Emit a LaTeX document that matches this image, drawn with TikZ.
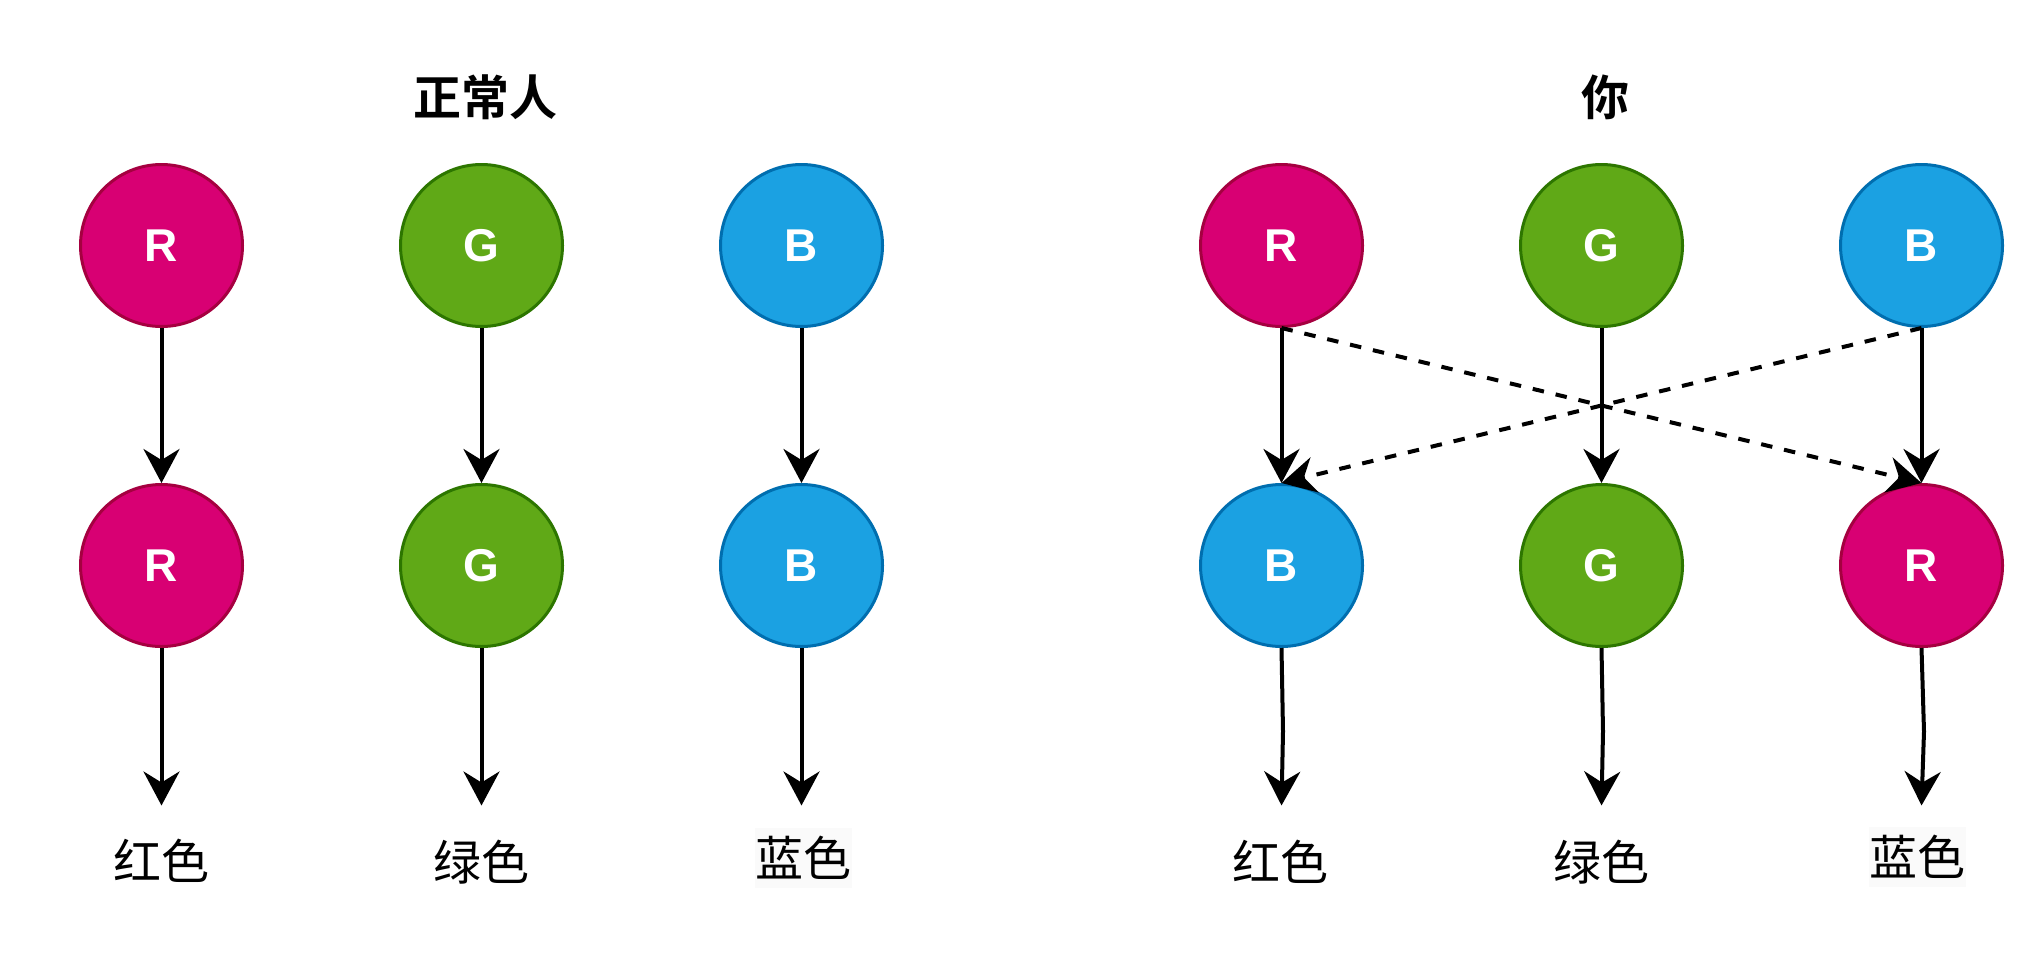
\documentclass[tikz,border=0pt]{standalone}
\usepackage{fontspec}
\setmainfont{Liberation Sans}
\newfontfamily\cjk{Noto Sans CJK SC}
\newfontfamily\cjkb{Noto Sans CJK SC Bold}
\usetikzlibrary{arrows.meta}
\definecolor{rfill}{HTML}{D80073}\definecolor{rdraw}{HTML}{A50040}
\definecolor{gfill}{HTML}{60A917}\definecolor{gdraw}{HTML}{2D7600}
\definecolor{bfill}{HTML}{1BA1E2}\definecolor{bdraw}{HTML}{006EAF}
\tikzset{
  ball/.style={circle, minimum size=162pt, inner sep=0pt, line width=3pt,
    text=white, font=\fontsize{46pt}{46pt}\selectfont\bfseries},
  rball/.style={ball, fill=rfill, draw=rdraw},
  gball/.style={ball, fill=gfill, draw=gdraw},
  bball/.style={ball, fill=bfill, draw=bdraw},
  conn/.style={line width=4pt, -{Stealth[length=34pt,width=36pt,inset=11pt]}},
  dconn/.style={conn, dash pattern=on 11.5pt off 12pt},
  lab/.style={font=\cjk\fontsize{48pt}{48pt}\selectfont, inner sep=0pt},
  labbg/.style={lab, fill=black!2, minimum width=97pt, minimum height=60pt},
  ttl/.style={font=\cjkb\fontsize{48pt}{48pt}\selectfont, inner sep=0pt}
}
\begin{document}
\begin{tikzpicture}[x=1pt,y=-1pt]
\useasboundingbox (0,0) rectangle (2044,964);
% titles
\node[ttl] (t1) at (485,97) {正常人};
\node[ttl] (t2) at (1605,97) {你};
% left group
\node[rball] (a1) at (161.5,245.5) {R};
\node[gball] (b1) at (481.5,245.5) {G};
\node[bball] (c1) at (801.5,245.5) {B};
\node[rball] (a2) at (161.5,565.5) {R};
\node[gball] (b2) at (481.5,565.5) {G};
\node[bball] (c2) at (801.5,565.5) {B};
\coordinate (a3) at (161.5,805.5);
\coordinate (b3) at (481.5,805.5);
\coordinate (c3) at (801.5,805.5);
\node[lab] (la) at (161,861) {红色};
\node[lab] (lb) at (481,862) {绿色};
\node[labbg] (lc) at (803,858) {蓝色};
\draw[conn] (a1.south) -- (a2.north);
\draw[conn] (b1.south) -- (b2.north);
\draw[conn] (c1.south) -- (c2.north);
\draw[conn] (a2.south) -- (a3);
\draw[conn] (b2.south) -- (b3);
\draw[conn] (c2.south) -- (c3);
% right group
\node[rball] (d1) at (1281.5,245.5) {R};
\node[gball] (e1) at (1601.5,245.5) {G};
\node[bball] (f1) at (1921.5,245.5) {B};
\node[bball] (d2) at (1281.5,565.5) {B};
\node[gball] (e2) at (1601.5,565.5) {G};
\node[rball] (f2) at (1921.5,565.5) {R};
\coordinate (d3) at (1281.5,805.5);
\coordinate (e3) at (1601.5,805.5);
\coordinate (f3) at (1921.5,805.5);
\node[lab] (ld) at (1280,862) {红色};
\node[lab] (le) at (1601,862) {绿色};
\node[labbg] (lf) at (1917,857) {蓝色};
\draw[conn] (d1.south) -- (d2.north);
\draw[conn] (e1.south) -- (e2.north);
\draw[conn] (f1.south) -- (f2.north);
\draw[dconn] (d1.south) -- (f2.north);
\draw[dconn] (f1.south) -- (d2.north);
\draw[conn] (d2.south) -- ++(1.5,83.5) -- (d3);
\draw[conn] (e2.south) -- ++(1.5,83.5) -- (e3);
\draw[conn] (f2.south) -- ++(2.5,83.5) -- (f3);
\end{tikzpicture}
\end{document}
